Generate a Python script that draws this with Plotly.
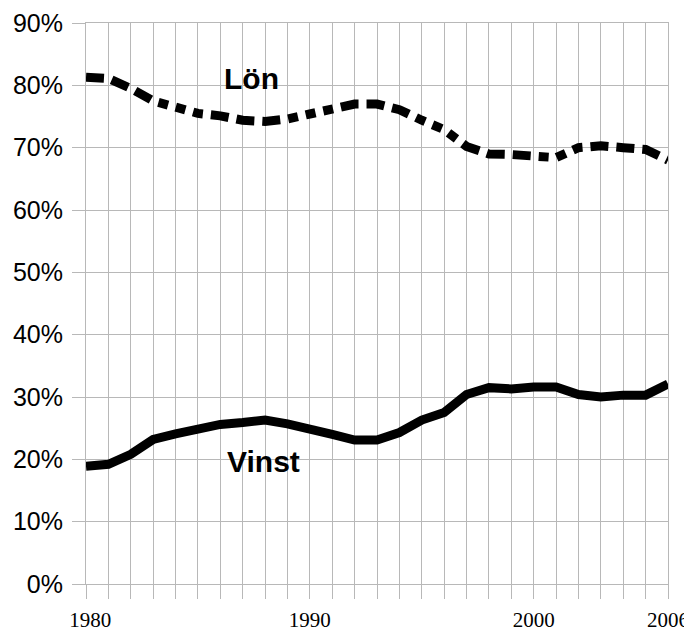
import plotly.graph_objects as go

years = list(range(1980, 2007))
lon = [81.3, 81.1, 79.5, 77.5, 76.5, 75.5, 75.1, 74.4, 74.2, 74.6, 75.4, 76.2, 77.0, 77.0,
       76.1, 74.4, 72.9, 70.2, 69.0, 68.9, 68.5, 68.4, 70.0, 70.3, 70.0, 69.7, 68.0]
vinst = [18.9, 19.2, 20.8, 23.2, 24.1, 24.9, 25.6, 25.9, 26.3, 25.7, 25.0, 24.0, 23.1, 23.1,
         24.3, 26.3, 27.5, 30.4, 31.5, 31.3, 31.6, 31.6, 30.4, 30.0, 30.3, 30.3, 32.1]
x_labels = {1980: "\u2009\u20091980", 1990: "1990", 2000: "2000", 2006: "2006"}
y_ticks = list(range(0, 91, 10))
y_labels = [f"{v}%" for v in y_ticks]

grid = "#b8b8b8"

fig = go.Figure()
fig.add_trace(go.Scatter(x=years, y=lon, mode="lines", name="Lön",
                         line=dict(color="black", width=9,
                                   dash="18px,8px,18px,8px,18px,8px,10px,8px,10px,8px,10px,8px")))
fig.add_trace(go.Scatter(x=years, y=vinst, mode="lines", name="Vinst",
                         line=dict(color="black", width=9)))

fig.add_annotation(x=1987.4, y=81.1, text="<b>Lön</b>", showarrow=False,
                   font=dict(family="Liberation Sans, Arial", size=30, color="black"))
fig.add_annotation(x=1987.95, y=19.7, text="<b>Vinst</b>", showarrow=False,
                   font=dict(family="Liberation Sans, Arial", size=30, color="black"))

fig.update_layout(
    width=684, height=626,
    margin=dict(l=78, r=24, t=15, b=50),
    paper_bgcolor="white", plot_bgcolor="white",
    showlegend=False,
    xaxis=dict(range=[1980, 2006], tickvals=years,
               ticktext=[x_labels.get(y, "") for y in years],
               showgrid=True, gridcolor=grid, gridwidth=1, automargin=False,
               ticks="outside", ticklen=14, tickcolor=grid, tickwidth=1,
               showline=True, linecolor=grid, linewidth=1, mirror=True,
               zeroline=False, ticklabelstandoff=3, ticklabeloverflow="allow",
               tickfont=dict(family="Liberation Serif, Times New Roman", size=21, color="black")),
    yaxis=dict(range=[0, 90], tickvals=y_ticks, ticktext=y_labels,
               showgrid=True, gridcolor=grid, gridwidth=1, automargin=False,
               ticks="outside", ticklen=13, tickcolor=grid, tickwidth=1,
               showline=True, linecolor=grid, linewidth=1, mirror=True,
               zeroline=False, ticklabelstandoff=4, ticklabeloverflow="allow",
               tickfont=dict(family="Liberation Sans, Arial", size=25, color="black")),
)

fig.write_html("out.html")
